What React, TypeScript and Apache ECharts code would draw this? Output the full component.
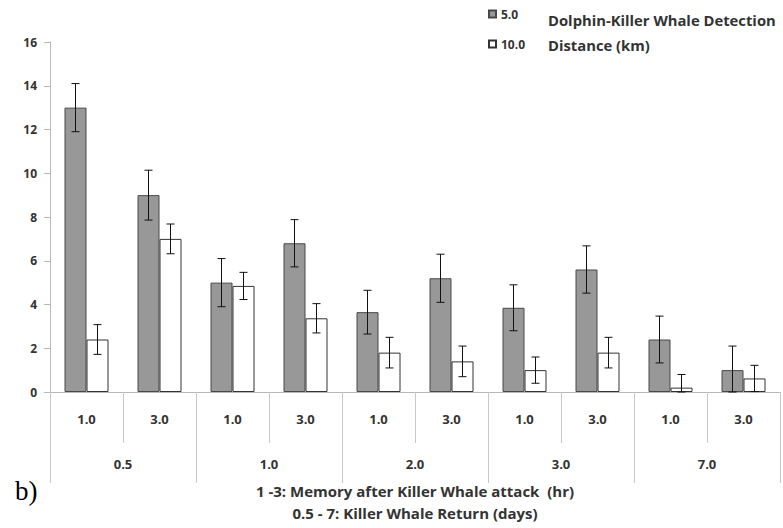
import React, { useEffect, useRef } from "react";
import * as echarts from "echarts";

const subCategories = ["1.0", "3.0", "1.0", "3.0", "1.0", "3.0", "1.0", "3.0", "1.0", "3.0"];
const groupCategories = ["0.5", "1.0", "2.0", "3.0", "7.0"];
const seriesNames = ["5.0", "10.0"];
const darkValues = [13.0, 9.0, 5.0, 6.8, 3.65, 5.2, 3.85, 5.6, 2.4, 1.0];
const darkErrors = [1.1, 1.14, 1.1, 1.08, 1.0, 1.1, 1.05, 1.08, 1.07, 1.1];
const whiteValues = [2.4, 7.0, 4.85, 3.37, 1.8, 1.4, 1.0, 1.8, 0.2, 0.62];
const whiteErrors = [0.68, 0.68, 0.62, 0.67, 0.7, 0.7, 0.6, 0.7, 0.6, 0.6];
const yTicks = { min: 0, max: 16, interval: 2 };
const legendTitle = ["Dolphin-Killer Whale Detection", "Distance (km)"];
const axisTitle = ["1 -3: Memory after Killer Whale attack  (hr)", "0.5 - 7: Killer Whale Return (days)"];
const panelLabel = "b)";

const FONT = "Open Sans";
const BAR_W = 22;
const TEXT = "#333";

function errorSeries(values: number[], errors: number[], sign: number) {
  return {
    type: "custom",
    xAxisIndex: 0,
    yAxisIndex: 0,
    silent: true,
    z: 10,
    encode: { x: 0, y: [1, 2] },
    data: values.map((v, i) => [i, Math.max(0, v - errors[i]), v + errors[i]]),
    renderItem: (params: any, api: any) => {
      const idx = api.value(0);
      const lo = api.coord([idx, api.value(1)]);
      const hi = api.coord([idx, api.value(2)]);
      const cx = lo[0] + (sign * BAR_W) / 2;
      const cap = 4;
      const st = { stroke: "#111", lineWidth: 1 };
      return {
        type: "group",
        children: [
          { type: "line", shape: { x1: cx, y1: hi[1], x2: cx, y2: lo[1] }, style: st },
          { type: "line", shape: { x1: cx - cap, y1: hi[1], x2: cx + cap, y2: hi[1] }, style: st },
          { type: "line", shape: { x1: cx - cap, y1: lo[1], x2: cx + cap, y2: lo[1] }, style: st },
        ],
      };
    },
  };
}

export default function App() {
  const ref = useRef<HTMLDivElement>(null);
  useEffect(() => {
    if (!ref.current) return;
    const chart = echarts.init(ref.current, null, { renderer: "svg" });
    const labelStyle = { fontFamily: FONT, fontWeight: "bold", color: TEXT };
    chart.setOption({
      animation: false,
      backgroundColor: "#fff",
      grid: { left: 50, right: 3, top: 42, bottom: 136, containLabel: false },
      legend: {
        data: seriesNames,
        orient: "vertical",
        left: 483,
        top: 3,
        itemWidth: 7,
        itemHeight: 7,
        itemGap: 18,
        itemTextGap: 6,
        icon: "rect",
        textStyle: { ...labelStyle, fontSize: 12 },
      },
      xAxis: [
        {
          type: "category",
          data: subCategories,
          position: "bottom",
          axisLine: { show: true, lineStyle: { color: "#b8b8b8", width: 1 } },
          axisTick: { show: true, interval: 0, length: 51, lineStyle: { color: "#c8c8c8" } },
          axisLabel: { interval: 0, margin: 20, fontSize: 13, ...labelStyle },
          splitLine: { show: false },
        },
        {
          type: "category",
          data: groupCategories,
          position: "bottom",
          axisLine: { show: false },
          axisTick: { show: true, interval: 0, length: 91, lineStyle: { color: "#c8c8c8" } },
          axisLabel: { interval: 0, margin: 65, fontSize: 13, ...labelStyle },
          splitLine: { show: false },
        },
      ],
      yAxis: {
        type: "value",
        min: yTicks.min,
        max: yTicks.max,
        interval: yTicks.interval,
        axisLine: { show: true, lineStyle: { color: "#b8b8b8" } },
        axisTick: { show: true, length: 6, lineStyle: { color: "#b8b8b8" } },
        axisLabel: { margin: 13, fontSize: 12, ...labelStyle },
        splitLine: { show: false },
      },
      series: [
        {
          name: seriesNames[0],
          type: "bar",
          data: darkValues,
          barWidth: BAR_W,
          barGap: "0%",
          itemStyle: { color: "#989898", borderColor: "#484848", borderWidth: 1 },
        },
        {
          name: seriesNames[1],
          type: "bar",
          data: whiteValues,
          barWidth: BAR_W,
          barGap: "0%",
          itemStyle: { color: "#ffffff", borderColor: "#333333", borderWidth: 1 },
        },
        errorSeries(darkValues, darkErrors, -1),
        errorSeries(whiteValues, whiteErrors, 1),
      ],
      graphic: [
        {
          type: "text",
          x: 548,
          y: 20,
          style: { text: legendTitle[0], fontFamily: FONT, fontWeight: "bold", fontSize: 14.8, fill: TEXT, verticalAlign: "middle" },
        },
        {
          type: "text",
          x: 548,
          y: 45,
          style: { text: legendTitle[1], fontFamily: FONT, fontWeight: "bold", fontSize: 14.8, fill: TEXT, verticalAlign: "middle" },
        },
        {
          type: "text",
          x: 415,
          y: 491,
          style: { text: axisTitle[0], fontFamily: FONT, fontWeight: "bold", fontSize: 15, fill: TEXT, align: "center", verticalAlign: "middle" },
        },
        {
          type: "text",
          x: 415,
          y: 513,
          style: { text: axisTitle[1], fontFamily: FONT, fontWeight: "bold", fontSize: 15, fill: TEXT, align: "center", verticalAlign: "middle" },
        },
        {
          type: "text",
          x: 15,
          y: 491,
          style: { text: panelLabel, fontFamily: "Liberation Serif", fontSize: 27, fill: "#000", verticalAlign: "middle" },
        },
      ],
    });
    return () => chart.dispose();
  }, []);
  return <div ref={ref} style={{ position: "absolute", left: 0, top: 0, width: 783, height: 528 }} />;
}
